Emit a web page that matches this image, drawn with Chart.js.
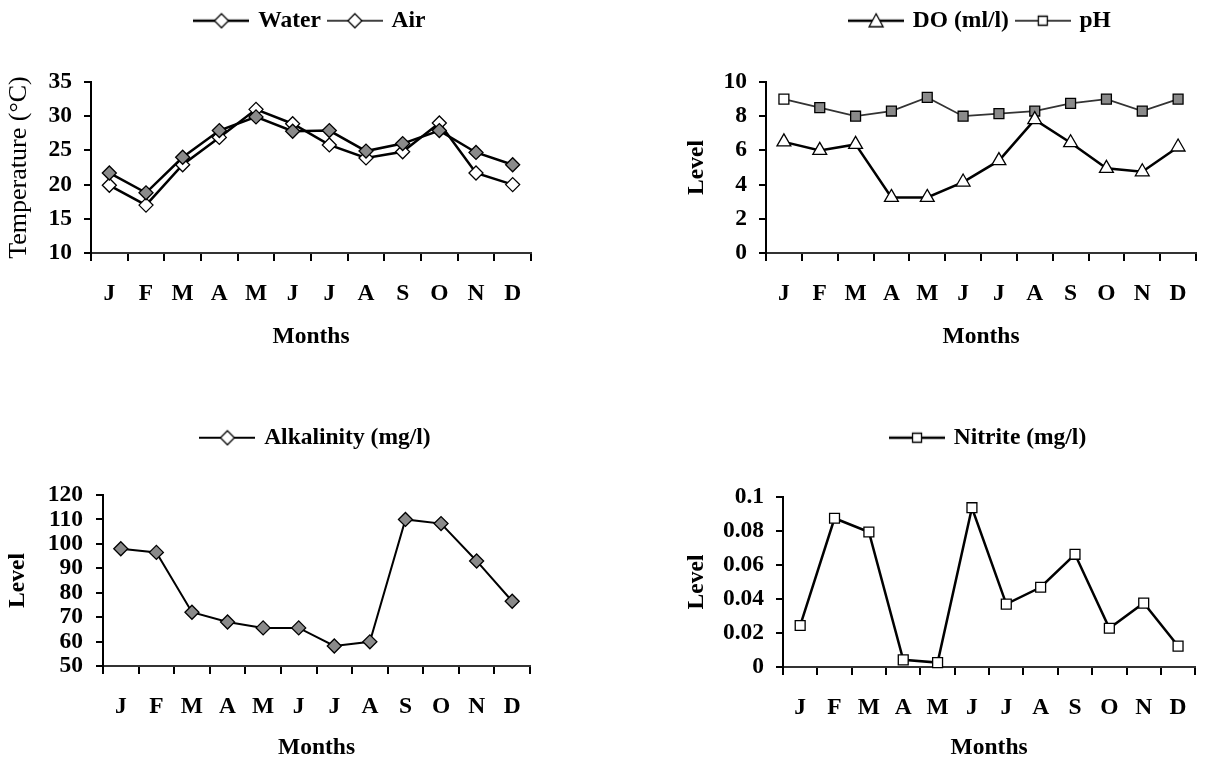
<!DOCTYPE html>
<html>
<head>
<meta charset="utf-8">
<title>Monthly water quality</title>
<script src="https://cdn.jsdelivr.net/npm/chart.js@4.4.1/dist/chart.umd.min.js"></script>
<style>
  html, body { margin: 0; padding: 0; background: #fff; }
  #page { position: relative; width: 1206px; height: 762px; overflow: hidden; }
  canvas { position: absolute; }
</style>
</head>
<body>
<div id="page">
  <canvas id="tempChart" width="560" height="370" style="left:0;top:0"></canvas>
  <canvas id="doChart" width="626" height="370" style="left:580px;top:0"></canvas>
  <canvas id="alkChart" width="560" height="345" style="left:0;top:417px"></canvas>
  <canvas id="nitriteChart" width="626" height="345" style="left:580px;top:417px"></canvas>
</div>
<script>
// data
const months = ['J', 'F', 'M', 'A', 'M', 'J', 'J', 'A', 'S', 'O', 'N', 'D'];
const waterTemp = [21.7, 18.8, 24, 27.9, 29.9, 27.8, 27.9, 24.9, 26, 27.9, 24.7, 22.9];
const airTemp = [19.9, 17, 22.9, 26.9, 31, 28.9, 25.8, 23.9, 24.8, 29, 21.7, 20];
const dissolvedOxygen = [6.5, 6.0, 6.35, 3.25, 3.25, 4.15, 5.4, 7.8, 6.45, 4.95, 4.75, 6.2];
const phLevel = [9.0, 8.5, 8.0, 8.3, 9.1, 8.0, 8.15, 8.3, 8.75, 9.0, 8.3, 9.0];
const alkalinity = [98, 96.5, 72, 68, 65.6, 65.6, 58.2, 59.9, 110, 108.3, 93, 76.5];
const nitrite = [0.0244, 0.0875, 0.0794, 0.0042, 0.0026, 0.0937, 0.037, 0.0469, 0.0663, 0.0228, 0.0376, 0.0123];

const serif = 'Liberation Serif';
const boldFont = { family: serif, size: 23.5, weight: 'bold' };
const grey = '#8a8a8a';

Chart.defaults.animation = false;
Chart.defaults.font.family = serif;
Chart.defaults.color = '#000';

// little line-with-marker picture for the legend
function legendIcon(shape, lineWidth) {
  const c = document.createElement('canvas');
  c.width = 56;
  c.height = 18;
  const g = c.getContext('2d');
  g.strokeStyle = '#000';
  g.lineWidth = lineWidth;
  g.beginPath();
  g.moveTo(0, 9);
  g.lineTo(56, 9);
  g.stroke();
  g.fillStyle = '#fff';
  g.lineWidth = 1.3;
  g.beginPath();
  if (shape === 'diamond') {
    g.moveTo(28, 2); g.lineTo(35, 9); g.lineTo(28, 16); g.lineTo(21, 9); g.closePath();
  } else if (shape === 'triangle') {
    g.moveTo(28, 2); g.lineTo(35, 15); g.lineTo(21, 15); g.closePath();
  } else {
    g.rect(23.5, 4.5, 9, 9);
  }
  g.fill();
  g.stroke();
  return c;
}

// push the plot down below the legend
const legendGap = height => ({
  id: 'legendGap',
  beforeInit(chart) {
    const fit = chart.legend.fit;
    chart.legend.fit = function () {
      fit.call(this);
      this.height = height;
    };
  }
});

function lineSet(label, data, style) {
  return Object.assign({
    label: label,
    data: data,
    tension: 0,
    clip: false,
    borderColor: '#000',
    borderWidth: 2.5,
    pointBorderColor: '#000',
    pointBorderWidth: 1.3,
    pointRadius: 7,
    pointHoverRadius: 7
  }, style);
}

function makeChart(id, o) {
  return new Chart(document.getElementById(id), {
    type: 'line',
    data: { labels: months, datasets: o.datasets },
    options: {
      responsive: false,
      layout: { padding: { left: 0, right: o.padRight, top: o.padTop, bottom: 0 } },
      plugins: {
        tooltip: { enabled: false },
        legend: {
          position: 'top',
          fullSize: false,
          labels: {
            usePointStyle: true,
            pointStyleWidth: 50,
            padding: 9,
            color: '#000',
            font: boldFont,
            generateLabels: chart => Chart.defaults.plugins.legend.labels.generateLabels(chart)
              .map((item, i) => Object.assign(item, { pointStyle: o.icons[i] }))
          }
        }
      },
      scales: {
        x: {
          offset: true,
          grid: { offset: true, drawOnChartArea: false, tickLength: 8, color: '#000', lineWidth: 2 },
          border: { color: '#333', width: 2 },
          ticks: { color: '#000', font: boldFont, padding: o.xTickPad, maxRotation: 0, autoSkip: false },
          title: { display: true, text: 'Months', color: '#000', font: boldFont, padding: { top: 0, bottom: o.monthsPad } },
          afterFit: s => { s.height = o.xHeight; }
        },
        y: {
          min: o.yMin,
          max: o.yMax,
          ticks: {
            stepSize: o.yStep,
            autoSkip: false,
            color: '#000',
            font: boldFont,
            padding: o.yTickPad,
            callback: v => String(Number(v.toFixed(3)))
          },
          grid: { drawOnChartArea: false, tickLength: 7, color: '#000', lineWidth: 2 },
          border: { color: '#000', width: 2 },
          title: { display: true, text: o.yTitle, color: '#000', font: o.yTitleFont || boldFont, padding: { top: o.yTitlePad, bottom: 0 } },
          afterFit: s => { s.width = o.yWidth; }
        }
      }
    },
    plugins: [legendGap(o.legendHeight)]
  });
}

makeChart('tempChart', {
  datasets: [
    lineSet('Water', waterTemp, { pointStyle: 'rectRot', pointBackgroundColor: grey }),
    lineSet('Air', airTemp, { pointStyle: 'rectRot', pointBackgroundColor: '#fff' })
  ],
  icons: [legendIcon('diamond', 2.5), legendIcon('diamond', 1.5)],
  yMin: 10, yMax: 35, yStep: 5,
  yTitle: 'Temperature (\u00B0C)', yTitleFont: { family: serif, size: 26 }, yTitlePad: 4,
  yWidth: 91, padRight: 29, padTop: 0, legendHeight: 82, xHeight: 117,
  xTickPad: 19, yTickPad: 12, monthsPad: 19
});

makeChart('doChart', {
  datasets: [
    lineSet('DO (ml/l)', dissolvedOxygen, { pointStyle: 'triangle', pointRadius: 8, pointBackgroundColor: '#fff' }),
    lineSet('pH', phLevel, {
      pointStyle: 'rect',
      borderColor: '#333',
      borderWidth: 1.8,
      pointBackgroundColor: phLevel.map((v, i) => i === 0 ? '#fff' : grey)
    })
  ],
  icons: [legendIcon('triangle', 2.5), legendIcon('square', 1.5)],
  yMin: 0, yMax: 10, yStep: 2,
  yTitle: 'Level', yTitlePad: 103,
  yWidth: 186, padRight: 1, padTop: 0, legendHeight: 82, xHeight: 117,
  xTickPad: 19, yTickPad: 12, monthsPad: 19
});

makeChart('alkChart', {
  datasets: [
    lineSet('Alkalinity (mg/l)', alkalinity, { pointStyle: 'rectRot', borderWidth: 2, pointBackgroundColor: grey })
  ],
  icons: [legendIcon('diamond', 2)],
  yMin: 50, yMax: 120, yStep: 10,
  yTitle: 'Level', yTitlePad: 4,
  yWidth: 103, padRight: 30, padTop: 0, legendHeight: 78, xHeight: 96,
  xTickPad: 19, yTickPad: 13, monthsPad: 0
});

makeChart('nitriteChart', {
  datasets: [
    lineSet('Nitrite (mg/l)', nitrite, { pointStyle: 'rect', pointBackgroundColor: '#fff' })
  ],
  icons: [legendIcon('square', 2.5)],
  yMin: 0, yMax: 0.1, yStep: 0.02,
  yTitle: 'Level', yTitlePad: 103,
  yWidth: 203, padRight: 3, padTop: 0, legendHeight: 80, xHeight: 95,
  xTickPad: 19, yTickPad: 12, monthsPad: 0
});
</script>
</body>
</html>
